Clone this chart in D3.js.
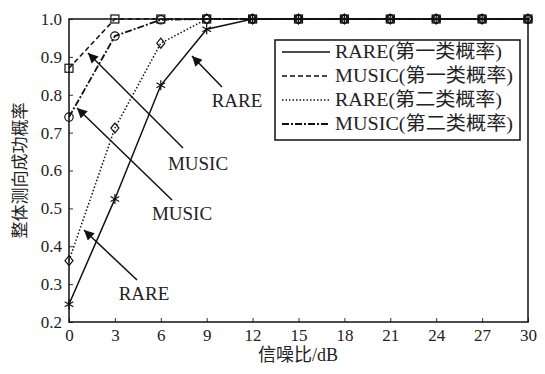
<!DOCTYPE html>
<html><head><meta charset="utf-8">
<script src="https://cdn.jsdelivr.net/npm/d3@7"></script>
<style>body{margin:0;background:#fff;} svg{display:block;} text{font-family:"Liberation Serif","Noto Sans CJK SC",serif;fill:#222;}</style>
</head><body>
<script>
const snr = [0,3,6,9,12,15,18,21,24,27,30];
const rare1  = [0.247,0.525,0.825,0.973,1,1,1,1,1,1,1];
const music1 = [0.870,1,1,1,1,1,1,1,1,1,1];
const rare2  = [0.362,0.712,0.936,1,1,1,1,1,1,1,1];
const music2 = [0.741,0.955,0.998,1,1,1,1,1,1,1,1];
const xTicks = [0,3,6,9,12,15,18,21,24,27,30];
const yTicks = [0.2,0.3,0.4,0.5,0.6,0.7,0.8,0.9,1.0];
const legendLabels = ["RARE(第一类概率)","MUSIC(第一类概率)","RARE(第二类概率)","MUSIC(第二类概率)"];

const W=545,H=374, L=69,R=528,T=19,B=322;
const svg=d3.select("body").append("svg").attr("width",W).attr("height",H);
const x=d3.scaleLinear().domain([0,30]).range([L,R]);
const y=d3.scaleLinear().domain([0.2,1.0]).range([B,T]);

svg.append("defs").append("marker").attr("id","ah").attr("viewBox","0 0 10 10")
 .attr("refX",10).attr("refY",5).attr("markerWidth",13).attr("markerHeight",10).attr("markerUnits","userSpaceOnUse").attr("orient","auto")
 .append("path").attr("d","M0,0L10,5L0,10Z").attr("fill","#111");

// axes
const gx=svg.append("g").attr("transform",`translate(0,${B})`).call(d3.axisBottom(x).tickValues(xTicks).tickSize(-4).tickPadding(7).tickFormat(d3.format("d")));
const gy=svg.append("g").attr("transform",`translate(${L},0)`).call(d3.axisLeft(y).tickValues(yTicks).tickSize(-4).tickPadding(7).tickFormat(d3.format(".1f")));
[gx,gy].forEach(g=>{g.select(".domain").remove();g.selectAll(".tick line").attr("stroke","#333");g.selectAll("text").attr("font-size",17).attr("fill","#222");});
svg.append("rect").attr("x",L).attr("y",T).attr("width",R-L).attr("height",B-T).attr("fill","none").attr("stroke","#111").attr("stroke-width",1.5);

const series=[
 {v:rare1,dash:null,m:"star",w:1.5},
 {v:music1,dash:"5,3",m:"square",w:1.5},
 {v:rare2,dash:"1.5,2",m:"diamond",w:1.5},
 {v:music2,dash:"7,2,2,2",m:"circle",w:1.8}
];
const line=d3.line().x((d,i)=>x(snr[i])).y(d=>y(d));
series.forEach(s=>{
 svg.append("path").datum(s.v).attr("d",line).attr("fill","none").attr("stroke","#111").attr("stroke-width",s.w).attr("stroke-dasharray",s.dash);
});
series.forEach(s=>{
 const g=svg.append("g");
 s.v.forEach((d,i)=>{
  const cx=x(snr[i]),cy=y(d);
  if(s.m==="star"){
   g.append("path").attr("d",d3.symbol(d3.symbolAsterisk,70)()).attr("transform",`translate(${cx},${cy})`).attr("stroke","#111").attr("stroke-width",1.2).attr("fill","none");
  } else if(s.m==="square"){
   g.append("rect").attr("x",cx-4).attr("y",cy-4).attr("width",8).attr("height",8).attr("fill","none").attr("stroke","#111").attr("stroke-width",1.2);
  } else if(s.m==="diamond"){
   g.append("path").attr("d",`M${cx},${cy-5}L${cx+4},${cy}L${cx},${cy+5}L${cx-4},${cy}Z`).attr("fill","none").attr("stroke","#111").attr("stroke-width",1.2);
  } else {
   g.append("circle").attr("cx",cx).attr("cy",cy).attr("r",4.2).attr("fill","none").attr("stroke","#111").attr("stroke-width",1.2);
  }
 });
});

// annotations
const ann=[
 {x1:222,y1:87,x2:192,y2:56,t:"RARE",tx:237,ty:107},
 {x1:183,y1:148,x2:88,y2:53,t:"MUSIC",tx:198,ty:170},
 {x1:172,y1:200,x2:77,y2:108,t:"MUSIC",tx:182,ty:220},
 {x1:137,y1:280,x2:84,y2:230,t:"RARE",tx:144,ty:300}
];
ann.forEach(a=>{
 svg.append("line").attr("x1",a.x1).attr("y1",a.y1).attr("x2",a.x2).attr("y2",a.y2).attr("stroke","#111").attr("stroke-width",1.5).attr("marker-end","url(#ah)");
 svg.append("text").attr("x",a.tx).attr("y",a.ty).attr("text-anchor","middle").attr("font-size",19).text(a.t);
});

// legend
const lg=svg.append("g");
lg.append("rect").attr("x",275).attr("y",40).attr("width",245).attr("height",100).attr("fill","#fff").attr("stroke","#111").attr("stroke-width",1.5);
legendLabels.forEach((t,i)=>{
 const yy=52+i*24;
 lg.append("line").attr("x1",282).attr("x2",330).attr("y1",yy).attr("y2",yy).attr("stroke","#111").attr("stroke-width",series[i].w).attr("stroke-dasharray",series[i].dash);
 lg.append("text").attr("x",335).attr("y",yy+6).attr("font-size",19).attr("textLength",t.startsWith("MUSIC")?178:167).attr("lengthAdjust","spacingAndGlyphs").text(t);
});

// axis titles
svg.append("text").attr("x",298).attr("y",361).attr("text-anchor","middle").attr("font-size",18).text("信噪比/dB");
svg.append("text").attr("transform",`translate(26,${(T+B)/2}) rotate(-90)`).attr("text-anchor","middle").attr("font-size",17).text("整体测向成功概率");
</script>
</body></html>
